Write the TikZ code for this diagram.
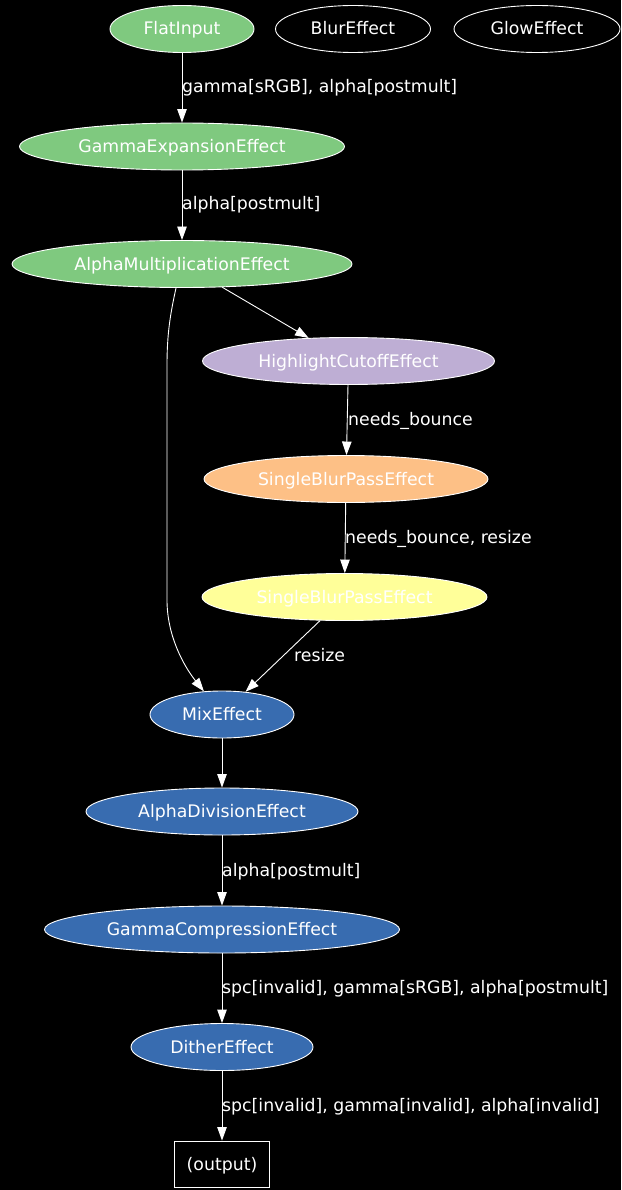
\documentclass[tikz,border=0pt]{standalone}
\usepackage{fontspec}
\setmainfont{DejaVu Sans}
\usetikzlibrary{arrows.meta,shapes.geometric}
\definecolor{cgreen}{HTML}{7FC97F}
\definecolor{cpurple}{HTML}{BEAED4}
\definecolor{corange}{HTML}{FDC086}
\definecolor{cyellow}{HTML}{FFFF99}
\definecolor{cblue}{HTML}{386CB0}
\begin{document}
\begin{tikzpicture}[x=1pt,y=-1pt,
  every node/.style={font=\fontsize{17.3}{20}\selectfont, text=white, inner sep=0pt},
  ell/.style={ellipse, draw=white, line width=0.9pt, text height=1.2em, text depth=0em, minimum height=47pt},
  lbl/.style={anchor=west, text height=1.2em, text depth=0em},
  conn/.style={draw=white, line width=0.9pt, -{Triangle[length=13.5pt,width=9.5pt]}}
]
\fill[black] (0,0) rectangle (621,1190);
\useasboundingbox (0,0) rectangle (621,1190);

\node[ell, fill=cgreen, minimum width=144pt] (fi) at (182,29) {FlatInput};
\node[ell, minimum width=155pt] (blur) at (353,29) {BlurEffect};
\node[ell, minimum width=166pt] (glow) at (537,29) {GlowEffect};
\node[ell, fill=cgreen, minimum width=325pt] (ge) at (182,146.5) {GammaExpansionEffect};
\node[ell, fill=cgreen, minimum width=340pt] (am) at (182,264) {AlphaMultiplicationEffect};
\node[ell, fill=cpurple, minimum width=292pt] (hc) at (348.5,361) {HighlightCutoffEffect};
\node[ell, fill=corange, minimum width=284pt] (sb1) at (346,479) {SingleBlurPassEffect};
\node[ell, fill=cyellow, minimum width=285pt] (sb2) at (344.5,597) {SingleBlurPassEffect};
\node[ell, fill=cblue, minimum width=144pt] (mix) at (222,714.5) {MixEffect};
\node[ell, fill=cblue, minimum width=272pt] (ad) at (222,811.5) {AlphaDivisionEffect};
\node[ell, fill=cblue, minimum width=355pt] (gc) at (222,929.5) {GammaCompressionEffect};
\node[ell, fill=cblue, minimum width=182pt] (di) at (222,1047) {DitherEffect};
\node[rectangle, draw=white, line width=0.9pt, minimum width=95pt, minimum height=46pt, text height=1.2em, text depth=0em] (out) at (222,1164) {(output)};

\node[lbl] (l1) at (182,87) {gamma[sRGB], alpha[postmult]};
\node[lbl] (l2) at (182,204) {alpha[postmult]};
\node[lbl] (l3) at (348,419) {needs\_bounce};
\node[lbl] (l4) at (345,537) {needs\_bounce, resize};
\node[lbl] (l5) at (294,655) {resize};
\node[lbl] (l6) at (222,870) {alpha[postmult]};
\node[lbl] (l7) at (222,987) {spc[invalid], gamma[sRGB], alpha[postmult]};
\node[lbl] (l8) at (222,1105) {spc[invalid], gamma[invalid], alpha[invalid]};

\draw[conn] (fi) -- (ge);
\draw[conn] (ge) -- (am);
\draw[conn] (am.-30) -- (hc.150);
\draw[conn] (am.-104) .. controls (170,315) and (167,335) .. (167,365) -- (167,600) .. controls (167,635) and (183,665) .. (mix.128);
\draw[conn] (hc) -- (sb1);
\draw[conn] (sb1) -- (sb2);
\draw[conn] (sb2.-136) -- (mix.44);
\draw[conn] (mix) -- (ad);
\draw[conn] (ad) -- (gc);
\draw[conn] (gc) -- (di);
\draw[conn] (di) -- (out);
\end{tikzpicture}
\end{document}
